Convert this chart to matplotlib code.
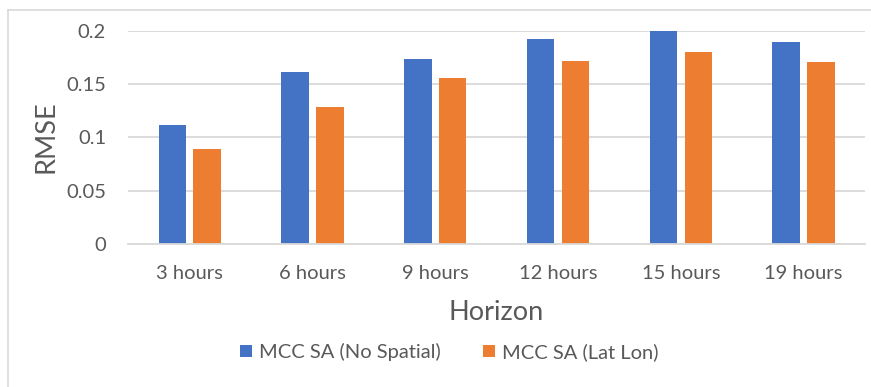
import matplotlib
matplotlib.use("Agg")
import matplotlib.pyplot as plt
import numpy as np
from matplotlib import font_manager
from matplotlib.lines import Line2D
from matplotlib.patches import Patch

# pick a narrow-ish humanist face if we have one
available = {f.name for f in font_manager.fontManager.ttflist}
FONT = next((f for f in ["Lato", "Open Sans", "DejaVu Sans"] if f in available), "DejaVu Sans")
plt.rcParams["font.family"] = FONT

horizons = ["3 hours", "6 hours", "9 hours", "12 hours", "15 hours", "19 hours"]
rmse_no_spatial = [0.112, 0.161, 0.173, 0.192, 0.200, 0.189]
rmse_lat_lon = [0.089, 0.128, 0.156, 0.172, 0.180, 0.171]

BLUE = "#4472C4"
ORANGE = "#ED7D31"
GRID = "#D9D9D9"
TXT = "#595959"

W, H = 871, 387
fig = plt.figure(figsize=(W / 100, H / 100), dpi=100)
ax = fig.add_axes([128.3 / W, 1 - 244 / H, (865 - 128.3) / W, (244 - 30.7) / H])

x = np.arange(len(horizons))
bw = 0.224
off = 0.142
ax.bar(x - off, rmse_no_spatial, bw, color=BLUE, zorder=3)
ax.bar(x + off, rmse_lat_lon, bw, color=ORANGE, zorder=3)

ax.set_xlim(-0.5, len(horizons) - 0.5)
ax.set_ylim(0, 0.2)
ax.set_yticks([0, 0.05, 0.1, 0.15, 0.2])
ax.set_yticklabels(["0", "0.05", "0.1", "0.15", "0.2"])
ax.set_xticks(x)
ax.set_xticklabels(horizons)
ax.yaxis.grid(True, color=GRID, linewidth=1.3, zorder=0)
ax.tick_params(axis="both", length=0, labelsize=14.5, colors=TXT)
ax.tick_params(axis="y", pad=16)
ax.tick_params(axis="x", pad=15)
for s in ["top", "right", "left"]:
    ax.spines[s].set_visible(False)
ax.spines["bottom"].set_color(GRID)
ax.spines["bottom"].set_linewidth(1.3)
ax.spines["bottom"].set_zorder(4)

fig.text(46 / W, 1 - 137 / H, "RMSE", rotation=90, ha="center", va="center",
         fontsize=19.5, color=TXT)
fig.text(496 / W, 1 - 320 / H, "Horizon", ha="center", va="baseline",
         fontsize=19.5, color=TXT)

handles = [Patch(facecolor=BLUE, label="MCC SA (No Spatial)"),
           Patch(facecolor=ORANGE, label="MCC SA (Lat Lon)")]
leg = fig.legend(handles=handles, loc="center", bbox_to_anchor=(449 / W, 1 - 352 / H),
                 ncol=2, frameon=False, fontsize=14.5, handlelength=0.6,
                 handleheight=0.6, handletextpad=0.35, columnspacing=2.1)
for t in leg.get_texts():
    t.set_color(TXT)

# chart area border (only top and left fall inside the image)
fig.add_artist(Line2D([8 / W, 8 / W], [0, 1 - 10 / H], color=GRID, linewidth=1.2))
fig.add_artist(Line2D([8 / W, 1], [1 - 10 / H, 1 - 10 / H], color=GRID, linewidth=1.2))

fig.savefig("out.png", dpi=100)
